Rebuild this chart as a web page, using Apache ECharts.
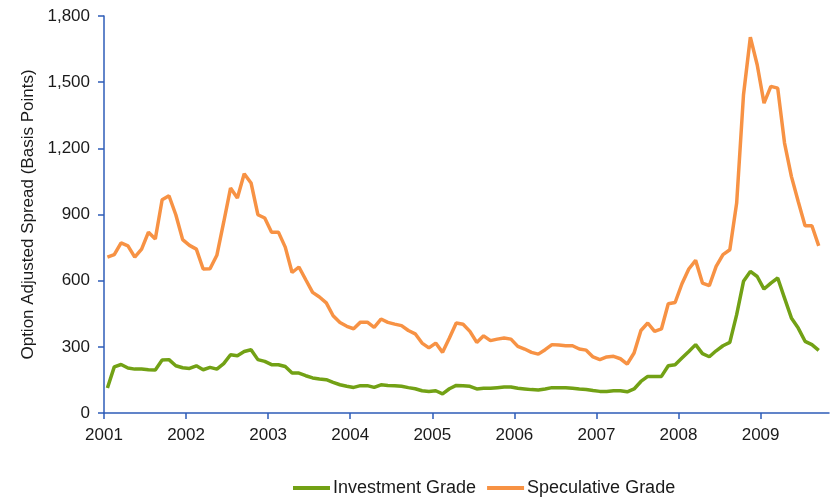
<!DOCTYPE html>
<html>
<head>
<meta charset="utf-8">
<script src="https://cdn.jsdelivr.net/npm/echarts@6/dist/echarts.min.js"></script>
<style>html,body{margin:0;padding:0;background:#fff;}#chart{width:834px;height:497px;}</style>
</head>
<body>
<div id="chart"></div>
<script>
// ---- data (monthly, Jan 2001 – Sep 2009) ----
const startYear = 2001;
const years = ['2001','2002','2003','2004','2005','2006','2007','2008','2009'];
const seriesNames = ['Investment Grade', 'Speculative Grade'];
const investmentGrade = [
  113,209,220,204,199,199,196,195,240,242,214,205,
  202,214,196,207,199,224,264,260,279,287,242,234,
  219,219,211,181,181,169,159,154,151,139,128,121,
  116,124,124,116,128,125,124,121,115,110,101,98,
  101,87,110,125,124,121,109,112,112,115,118,118,
  112,109,106,104,109,115,115,115,112,109,107,102,
  98,98,101,101,96,109,143,166,165,166,214,219,
  249,279,310,269,255,282,305,320,446,597,642,619,
  562,589,612,521,431,385,325,310,284
];
const speculativeGrade = [
  707,718,771,758,707,743,820,789,967,985,899,786,
  760,743,653,654,715,865,1020,975,1085,1043,899,884,
  820,820,752,637,662,604,547,526,499,441,410,393,
  382,412,412,388,426,411,403,396,374,359,317,295,
  317,275,340,408,402,370,320,350,328,335,340,335,
  302,290,275,267,287,310,308,305,305,290,285,254,
  242,254,257,246,222,272,374,408,370,381,495,501,
  586,653,692,589,577,665,718,740,952,1443,1704,1579,
  1405,1481,1473,1224,1073,959,849,849,758
];
const yTicks = [0,300,600,900,1200,1500,1800];

// ---- build ----
const axisMonths = 106;
const toPairs = arr => arr.map((v, i) => [startYear + (i + 0.5) / 12, v]);
const yearVals = years.map(Number);
const FONT = '"Liberation Sans", Arial, sans-serif';
const axisColor = '#2E5CB8';

const chart = echarts.init(document.getElementById('chart'), null, {renderer: 'canvas'});
chart.setOption({
  animation: false,
  backgroundColor: '#ffffff',
  textStyle: {fontFamily: FONT},
  grid: {left: 104, right: 5, top: 16, bottom: 84, containLabel: false},
  legend: {
    data: seriesNames,
    left: 288, top: 474,
    icon: 'rect', itemWidth: 37, itemHeight: 4, itemGap: 11,
    textStyle: {fontFamily: FONT, fontSize: 18, color: '#1a1a1a', padding: [0,0,0,-2]}
  },
  xAxis: {
    type: 'value',
    min: startYear,
    max: startYear + axisMonths / 12,
    interval: 1,
    axisLine: {show: true, lineStyle: {color: axisColor, width: 1.5}},
    axisTick: {show: true, length: 6, customValues: yearVals, lineStyle: {color: axisColor, width: 1.5}},
    axisLabel: {customValues: yearVals, fontFamily: FONT, fontSize: 17, color: '#1a1a1a', margin: 14,
      formatter: v => String(Math.round(v))},
    splitLine: {show: false}
  },
  yAxis: {
    type: 'value',
    min: 0, max: 1800, interval: 300,
    name: 'Option Adjusted Spread (Basis Points)',
    nameLocation: 'middle', nameRotate: 90, nameGap: 67,
    nameTextStyle: {fontFamily: FONT, fontSize: 17, color: '#1a1a1a'},
    axisLine: {show: true, lineStyle: {color: axisColor, width: 1.5}},
    axisTick: {show: true, length: 6, customValues: yTicks, lineStyle: {color: axisColor, width: 1.5}},
    axisLabel: {fontFamily: FONT, fontSize: 17, color: '#1a1a1a', margin: 14,
      formatter: v => v.toLocaleString('en-US')},
    splitLine: {show: false}
  },
  series: [
    {name: seriesNames[0], type: 'line', data: toPairs(investmentGrade), symbol: 'none',
     lineStyle: {color: '#72A115', width: 3.5}, itemStyle: {color: '#72A115'}},
    {name: seriesNames[1], type: 'line', data: toPairs(speculativeGrade), symbol: 'none',
     lineStyle: {color: '#F79244', width: 3.5}, itemStyle: {color: '#F79244'}}
  ]
});
</script>
</body>
</html>
